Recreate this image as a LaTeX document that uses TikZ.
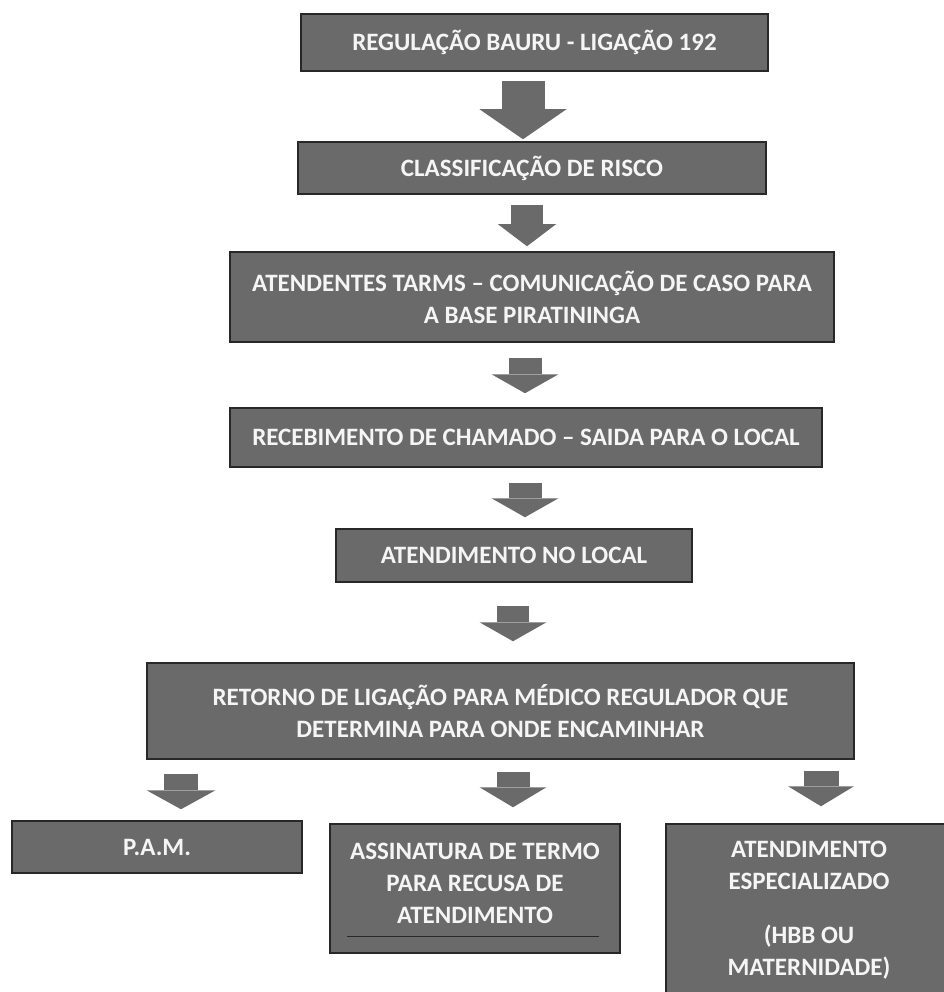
\documentclass[tikz,border=0pt]{standalone}
\usepackage{fontspec}
\setmainfont{Carlito}
\usepackage{tikz}
\usetikzlibrary{positioning,calc,arrows.meta}
\definecolor{caixa}{RGB}{106,106,106}
\definecolor{borda}{RGB}{40,40,40}
\definecolor{letra}{RGB}{245,245,245}
\newcommand{\fonte}{\fontsize{25}{32}\selectfont\bfseries}
\tikzstyle{etapa} = [draw=borda, line width=1.5pt, fill=caixa, text=letra, font=\fonte, align=center, inner sep=0pt]
\tikzset{seta/.style n args={3}{draw=caixa, line width=#1, line cap=butt, -{Triangle[width=#2, length=#3, line width=0pt]}}}

\begin{document}
\begin{tikzpicture}[x=1pt, y=-1pt]
			\useasboundingbox (0,0) rectangle (943,992);
			\node[etapa, minimum width=467pt, minimum height=57pt] (reg) at (534.5, 42.5) {REGULAÇÃO BAURU - LIGAÇÃO 192};
			\node[etapa, minimum width=468pt, minimum height=52pt] (cls) at (532, 168) {CLASSIFICAÇÃO DE RISCO};
			\node[etapa, minimum width=604pt, minimum height=90pt] (tarm) at (532, 297) {ATENDENTES TARMS – COMUNICAÇÃO DE CASO PARA\\A BASE PIRATININGA};
			\node[etapa, minimum width=592pt, minimum height=59pt] (rec) at (526, 437.5) {RECEBIMENTO DE CHAMADO – SAIDA PARA O LOCAL};
			\node[etapa, minimum width=356pt, minimum height=53pt] (loc) at (514, 555.5) {ATENDIMENTO NO LOCAL};
			\node[etapa, minimum width=707pt, minimum height=96pt] (ret) at (500.5, 711) {RETORNO DE LIGAÇÃO PARA MÉDICO REGULADOR QUE\\DETERMINA PARA ONDE ENCAMINHAR};
			\node[etapa, minimum width=290pt, minimum height=52pt] (pam) at (157, 847) {P.A.M.};
			\node[etapa, minimum width=290pt, minimum height=129pt] (ass) at (475, 888.5) {ASSINATURA DE TERMO\\PARA RECUSA DE\\ATENDIMENTO\rule[-11pt]{0pt}{11pt}};
			\node[etapa, minimum width=286pt, minimum height=172pt] (esp) at (809, 910) {ATENDIMENTO\\ESPECIALIZADO\\[22pt](HBB OU\\MATERNIDADE)};
			\draw[borda, line width=1pt] ([xshift=18pt, yshift=17pt]ass.south west) -- ([xshift=-22pt, yshift=17pt]ass.south east);
			\draw[seta={43pt}{87pt}{30pt}] ([xshift=-11.5pt, yshift=-9pt]reg.south) -- ([xshift=-9pt, yshift=2pt]cls.north);
			\draw[seta={32pt}{58pt}{22pt}] ([xshift=-5pt, yshift=-10pt]cls.south) -- ([xshift=-5pt, yshift=5pt]tarm.north);
			\draw[seta={33pt}{67pt}{19pt}] ([xshift=-7pt, yshift=-15pt]tarm.south) -- ([xshift=-1pt, yshift=14pt]rec.north);
			\draw[seta={33pt}{67pt}{19pt}] ([xshift=-1pt, yshift=-15pt]rec.south) -- ([xshift=11pt, yshift=11pt]loc.north);
			\draw[seta={32pt}{67pt}{19pt}] ([xshift=-1pt, yshift=-23pt]loc.south) -- ([xshift=12.5pt, yshift=21pt]ret.north);
			\draw[seta={34pt}{69pt}{19pt}] ($(ret.south -| pam.north)+(24pt,-14pt)$) -- ($(pam.north)+(24pt,11pt)$);
			\draw[seta={33pt}{67pt}{20pt}] ($(ret.south -| ass.north)+(38pt,-12pt)$) -- ($(ass.north)+(38pt,16pt)$);
			\draw[seta={35pt}{66pt}{20pt}] ($(ret.south -| esp.north)+(12pt,-11pt)$) -- ($(esp.north)+(12pt,17pt)$);
		\end{tikzpicture}
\end{document}
